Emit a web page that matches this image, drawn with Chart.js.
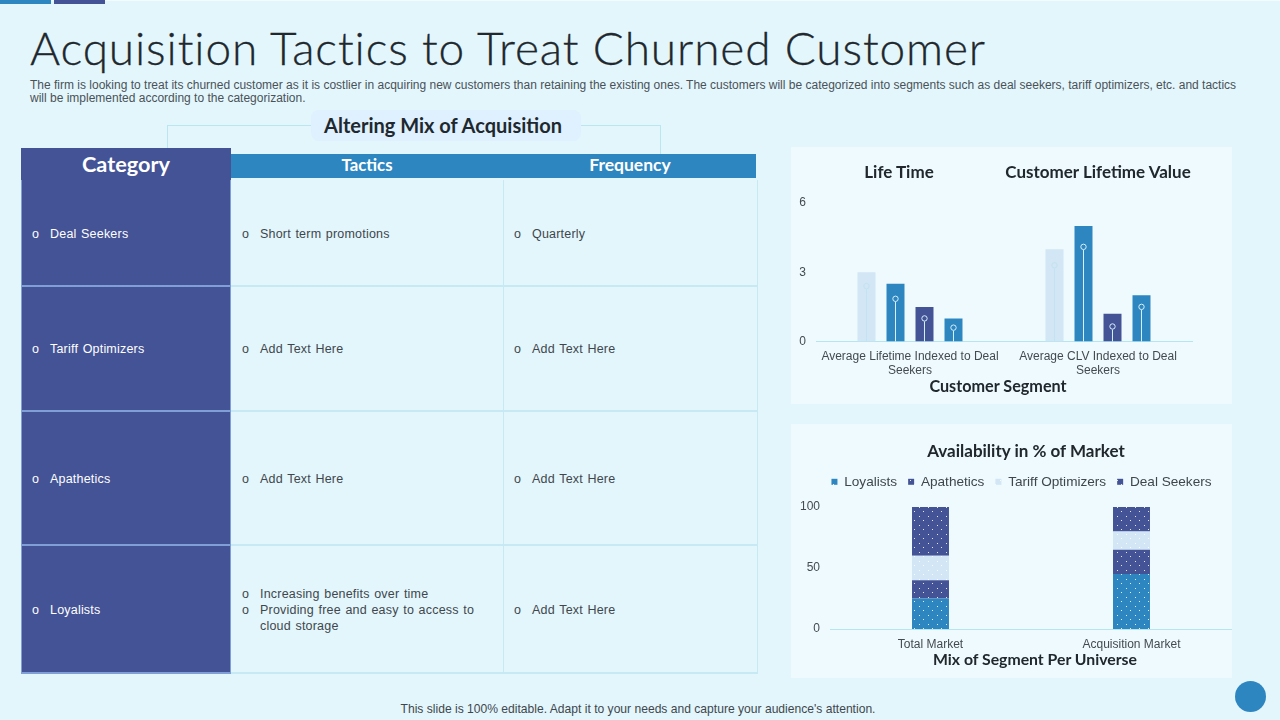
<!DOCTYPE html>
<html>
<head>
<meta charset="utf-8">
<script src="https://cdn.jsdelivr.net/npm/chart.js@4"></script>
<style>
html, body { margin: 0; padding: 0; }
body { width: 1280px; height: 720px; position: relative; overflow: hidden; background: #e3f6fc; font-family: "Liberation Sans", sans-serif; color: #3f474d; }
.box, .txt { position: absolute; }
.txt { white-space: nowrap; line-height: 1; }
.head { font-family: Lato, sans-serif; font-weight: 700; color: #20282e; transform: translateX(-50%); }
canvas { position: absolute; }
</style>
</head>
<body>
<div class="box" style="left:0;top:0;width:1280px;height:1px;background:#f4fbfe"></div>
<div class="box" style="left:0;top:0;width:51px;height:4px;background:#2e86c1"></div>
<div class="box" style="left:54px;top:0;width:51px;height:4px;background:#445396"></div>

<div class="txt" style="left:30px;top:20px;font:300 46px Lato,sans-serif;color:#20282e;letter-spacing:0.88px;-webkit-text-stroke:0.3px #20282e">Acquisition Tactics to Treat Churned Customer</div>
<div class="txt" style="left:30px;top:79px;font-size:12px;color:#4a5258">The firm is looking to treat its churned customer as it is costlier in acquiring new customers than retaining the existing ones. The customers will be categorized into segments such as deal seekers, tariff optimizers, etc. and tactics</div>
<div class="txt" style="left:30px;top:92px;font-size:12px;color:#4a5258">will be implemented according to the categorization.</div>

<div class="box" style="left:167px;top:125px;width:143px;height:23px;border-left:1px solid #b9e6f0;border-top:1px solid #b9e6f0"></div>
<div class="box" style="left:580px;top:125px;width:80px;height:29px;border-right:1px solid #b9e6f0;border-top:1px solid #b9e6f0"></div>
<div class="box" style="left:311px;top:110px;width:270px;height:31px;background:#dff0fe;border-radius:8px"></div>
<div class="txt head" style="left:443px;top:115px;font-size:20px">Altering Mix of Acquisition</div>

<div id="table"></div>

<div class="box" style="left:791px;top:147px;width:441px;height:257px;background:#eefafd"></div>
<div class="box" style="left:791px;top:424px;width:441px;height:254px;background:#eefafd"></div>
<canvas id="lifeChart" width="441" height="257" style="left:791px;top:147px"></canvas>
<canvas id="mixChart" width="441" height="254" style="left:791px;top:424px"></canvas>
<div class="txt head" style="left:899px;top:163px;font-size:17px">Life Time</div>
<div class="txt head" style="left:1098px;top:163px;font-size:17px">Customer Lifetime Value</div>
<div class="txt head" style="left:998px;top:378px;font-size:16.2px">Customer Segment</div>
<div class="txt head" style="left:1026px;top:442px;font-size:17px">Availability in % of Market</div>
<div class="txt head" style="left:1035px;top:651px;font-size:15.8px">Mix of Segment Per Universe</div>

<div class="txt" style="left:638px;top:703px;font-size:12.1px;color:#3f474d;transform:translateX(-50%)">This slide is 100% editable. Adapt it to your needs and capture your audience's attention.</div>
<div class="box" style="left:1235px;top:681px;width:31px;height:31px;border-radius:50%;background:#2e86c1"></div>

<script>
// table text
const tableCategories = ['Deal Seekers', 'Tariff Optimizers', 'Apathetics', 'Loyalists'];
const tableTactics = [
    ['Short term promotions'],
    ['Add Text Here'],
    ['Add Text Here'],
    ['Increasing benefits over time', 'Providing free and easy to access to|cloud storage']
];
const tableFrequency = ['Quarterly', 'Add Text Here', 'Add Text Here', 'Add Text Here'];
const rowEdges = [180, 285, 410, 544, 672];

// life time / CLV chart
const lifeLabels = [['Average Lifetime Indexed to Deal', 'Seekers'], ['Average CLV Indexed to Deal', 'Seekers']];
const lifeLight = [3, 4];
const lifeBlue = [2.5, 5];
const lifeNavy = [1.5, 1.2];
const lifeBlue2 = [1, 2];
const pinLight = [2.4, 3.3];
const pinBlue = [1.85, 4.1];
const pinNavy = [1.0, 0.65];
const pinBlue2 = [0.6, 1.5];

// availability chart
const mixLabels = ['Total Market', 'Acquisition Market'];
const loyalists = [25, 45];
const apathetics = [15, 20];
const tariffOptimizers = [20, 15];
const dealSeekers = [40, 20];

const BLUE = '#2e86c1', NAVY = '#445396', LIGHT = '#d2e6f5';
const TICK = '#444b50', AXIS = '#b5e5ee';

const table = document.getElementById('table');
function box(l, t, w, h, bg) {
    const d = document.createElement('div');
    d.className = 'box';
    d.style.cssText = `left:${l}px;top:${t}px;width:${w}px;height:${h}px;background:${bg}`;
    table.appendChild(d);
}
function text(l, t, s, css) {
    const d = document.createElement('div');
    d.className = 'txt';
    d.textContent = s;
    d.style.cssText = `left:${l}px;top:${t}px;${css || ''}`;
    table.appendChild(d);
}
function heading(x, t, s, size) {
    const d = document.createElement('div');
    d.className = 'txt head';
    d.textContent = s;
    d.style.cssText = `left:${x}px;top:${t}px;font-size:${size}px;color:#fff`;
    table.appendChild(d);
}
function bullets(x, y, items, color) {
    const css = 'font-size:12.5px;letter-spacing:0.2px;word-spacing:0.9px;color:' + color;
    const lines = [];
    items.forEach(it => it.split('|').forEach((s, i) => lines.push([s, i === 0])));
    let top = y - 6 - (lines.length - 1) * 8;
    lines.forEach(l => {
        if (l[1]) text(x + 1, top, 'o', css);
        text(x + 19, top, l[0], css);
        top += 16;
    });
}
box(21, 148, 210, 526, NAVY);
box(231, 154, 525, 24, BLUE);
rowEdges.forEach((y, i) => {
    if (i > 0) {
        box(21, y, 210, 2, '#7f9fd6');
        box(231, y, 526, 2, '#c6e9f3');
    }
});
box(21, 180, 1, 494, '#7f9fd6');
box(230, 180, 1, 494, '#7f9fd6');
box(503, 180, 1, 494, '#c6e9f3');
box(757, 180, 1, 494, '#c6e9f3');
heading(367, 157, 'Tactics', 16.8);
heading(630, 156, 'Frequency', 17.5);
heading(126, 154, 'Category', 21.7);
const centers = [234, 349, 479, 610];
tableCategories.forEach((c, i) => {
    bullets(31, centers[i], [c], '#fff');
    bullets(241, centers[i], tableTactics[i], '#3f474d');
    bullets(513, centers[i], [tableFrequency[i]], '#3f474d');
});

// white dots for the stacked bars
function dots(color) {
    const c = document.createElement('canvas');
    c.width = 9; c.height = 9;
    const g = c.getContext('2d');
    g.fillStyle = color;
    g.fillRect(0, 0, 9, 9);
    g.fillStyle = 'rgba(255,255,255,0.85)';
    g.fillRect(2, 2, 1, 1);
    g.fillRect(6, 6, 1, 1);
    return c.getContext('2d').createPattern(c, 'repeat');
}

// lollipop pins inside the bars
const pinPlugin = {
    id: 'pins',
    afterDatasetsDraw(chart) {
        const g = chart.ctx, y = chart.scales.y;
        chart.data.datasets.forEach((ds, i) => {
            chart.getDatasetMeta(i).data.forEach((bar, j) => {
                const top = y.getPixelForValue(ds.pins[j]);
                g.save();
                g.strokeStyle = i === 0 ? '#c3e3f2' : '#d6f0fa';
                g.lineWidth = 1;
                g.beginPath();
                g.moveTo(bar.x, y.getPixelForValue(0));
                g.lineTo(bar.x, top + 3);
                g.stroke();
                g.beginPath();
                g.arc(bar.x, top, 2.7, 0, Math.PI * 2);
                g.fillStyle = ds.backgroundColor;
                g.fill();
                g.stroke();
                g.restore();
            });
        });
    }
};

// extra room under the legend, and legend nudged right of the canvas centre
const legendGap = {
    id: 'legendGap',
    beforeInit(chart) {
        const fit = chart.legend.fit;
        chart.legend.fit = function () {
            fit.call(this);
            this.height += 8.4;
        };
    },
    afterLayout(chart) {
        chart.legend.left += 20;
    }
};

new Chart(document.getElementById('lifeChart'), {
    type: 'bar',
    data: {
        labels: lifeLabels,
        datasets: [
            { data: lifeLight, pins: pinLight, backgroundColor: LIGHT },
            { data: lifeBlue, pins: pinBlue, backgroundColor: BLUE },
            { data: lifeNavy, pins: pinNavy, backgroundColor: NAVY },
            { data: lifeBlue2, pins: pinBlue2, backgroundColor: BLUE }
        ]
    },
    options: {
        responsive: false,
        animation: false,
        layout: { padding: { top: 56, right: 40 } },
        categoryPercentage: 0.617,
        barPercentage: 0.62,
        plugins: { legend: { display: false }, tooltip: { enabled: false } },
        scales: {
            y: {
                min: 0, max: 6,
                afterFit(s) { s.width = 25; },
                grid: { display: false },
                border: { display: false },
                ticks: { stepSize: 3, padding: 2, color: TICK, font: { family: 'Liberation Sans', size: 12 } }
            },
            x: {
                afterFit(s) { s.height = 62.5; },
                grid: { display: false },
                border: { color: AXIS },
                ticks: { padding: 0, color: TICK, maxRotation: 0, autoSkip: false, font: { family: 'Liberation Sans', size: 12, lineHeight: 1.17 } }
            }
        }
    },
    plugins: [pinPlugin]
});

new Chart(document.getElementById('mixChart'), {
    type: 'bar',
    data: {
        labels: mixLabels,
        datasets: [
            { label: 'Loyalists', data: loyalists, backgroundColor: dots(BLUE) },
            { label: 'Apathetics', data: apathetics, backgroundColor: dots(NAVY) },
            { label: 'Tariff Optimizers', data: tariffOptimizers, backgroundColor: dots(LIGHT) },
            { label: 'Deal Seekers', data: dealSeekers, backgroundColor: dots(NAVY) }
        ]
    },
    options: {
        responsive: false,
        animation: false,
        layout: { padding: { top: 40 } },
        categoryPercentage: 1,
        barPercentage: 0.184,
        plugins: {
            tooltip: { enabled: false },
            legend: {
                position: 'top',
                labels: {
                    usePointStyle: true, pointStyle: 'rect', boxWidth: 6, boxHeight: 6, padding: 11,
                    color: '#3f474d', font: { family: 'Liberation Sans', size: 13.6 }
                }
            }
        },
        scales: {
            y: {
                stacked: true, min: 0, max: 100,
                afterFit(s) { s.width = 39; },
                grid: { display: false },
                border: { display: false },
                ticks: { stepSize: 50, padding: 2, color: TICK, font: { family: 'Liberation Sans', size: 12 } }
            },
            x: {
                stacked: true,
                afterFit(s) { s.height = 49; },
                grid: { display: false },
                border: { color: AXIS },
                ticks: { padding: 0, color: TICK, maxRotation: 0, font: { family: 'Liberation Sans', size: 12 } }
            }
        }
    },
    plugins: [legendGap]
});
</script>
</body>
</html>
